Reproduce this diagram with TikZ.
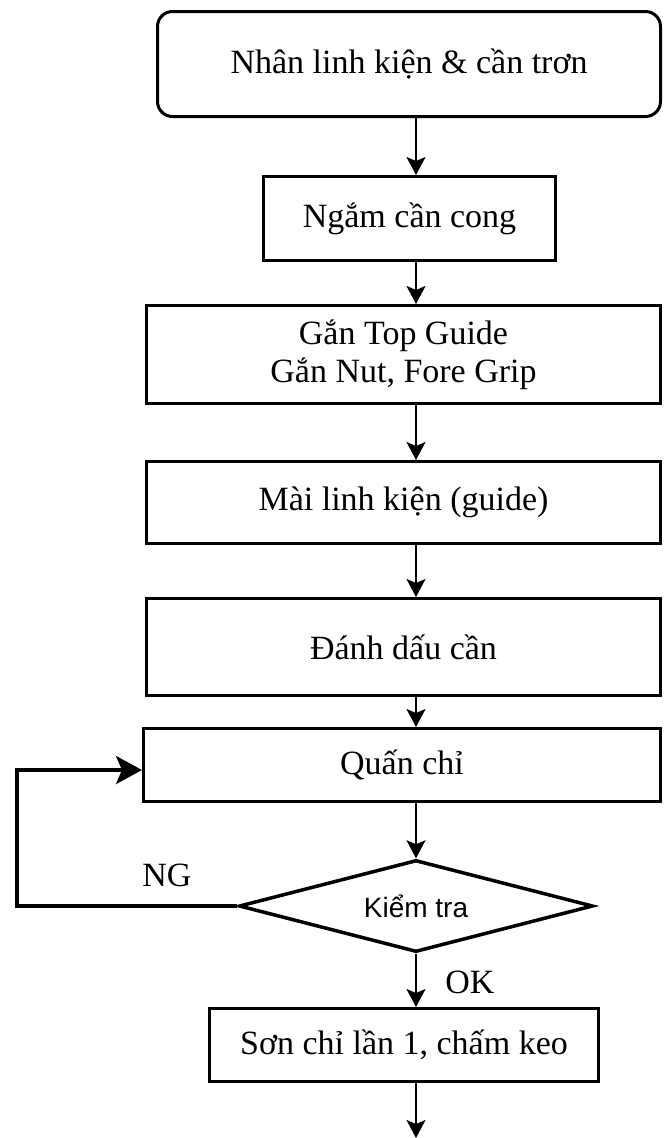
\documentclass[tikz,border=0pt]{standalone}
\usepackage{fontspec}
\setmainfont{Liberation Serif}
\newfontfamily\sansf{Liberation Sans}
\usetikzlibrary{shapes.geometric,arrows.meta}
\tikzset{
  box/.style={draw, line width=3pt, inner sep=0pt, align=center, font=\fontsize{34}{38}\selectfont},
  arr/.style={line width=1.5pt, -{Stealth[length=18pt,width=19pt,inset=4pt]}},
  fb/.style={line width=3.5pt, -{Stealth[length=26pt,width=28pt,inset=6pt]}},
  lbl/.style={font=\fontsize{34}{38}\selectfont, inner sep=0pt},
}
\begin{document}
\begin{tikzpicture}[x=1pt,y=-1pt]
\path[use as bounding box, clip] (0,0) rectangle (664,1138);
\node[box, rounded corners=15pt, minimum width=503pt, minimum height=105pt] (n1) at (409,64) {Nhân linh kiện \& cần trơn};
\node[box, minimum width=292pt, minimum height=84pt] (n2) at (409.5,218.5) {Ngắm cần cong};
\node[box, minimum width=514pt, minimum height=98pt] (n3) at (403.5,354.5) {Gắn Top Guide\\Gắn Nut, Fore Grip};
\node[box, minimum width=514pt, minimum height=82pt] (n4) at (403.5,502.5) {Mài linh kiện (guide)};
\node[box, minimum width=514pt, minimum height=97pt] (n5) at (403.5,647) {Đánh dấu cần};
\node[box, minimum width=517pt, minimum height=73pt] (n6) at (402,765) {Quấn chỉ};
\node[draw, diamond, aspect=3.76, line width=3.5pt, inner sep=0pt, minimum width=354pt, minimum height=92pt, font=\sansf\fontsize{28}{32}\selectfont] (n7) at (416,906) {Kiểm tra};
\node[box, minimum width=389pt, minimum height=73pt] (n8) at (404,1045) {Sơn chỉ lần 1, chấm keo};
\node[lbl] (ng) at (167,875) {NG};
\node[lbl] (ok) at (470,982) {OK};
\coordinate (ax) at (416,0);
\coordinate (cl) at (17,0);
\coordinate (lt) at (17,770);
\coordinate (endp) at (416,1138);
\draw[arr] (n1.south -| ax) -- (n2.north -| ax);
\draw[arr] (n2.south -| ax) -- (n3.north -| ax);
\draw[arr] (n3.south -| ax) -- (n4.north -| ax);
\draw[arr] (n4.south -| ax) -- (n5.north -| ax);
\draw[arr] (n5.south -| ax) -- (n6.north -| ax);
\draw[arr] (n6.south -| ax) -- (n7.north);
\draw[arr] (n7.south) -- (n8.north -| n7.south);
\draw[arr] (n8.south -| ax) -- (endp);
\draw[fb] (n7.west) -- (n7.west -| cl) -- (lt) -- (lt -| n6.west);
\end{tikzpicture}
\end{document}
